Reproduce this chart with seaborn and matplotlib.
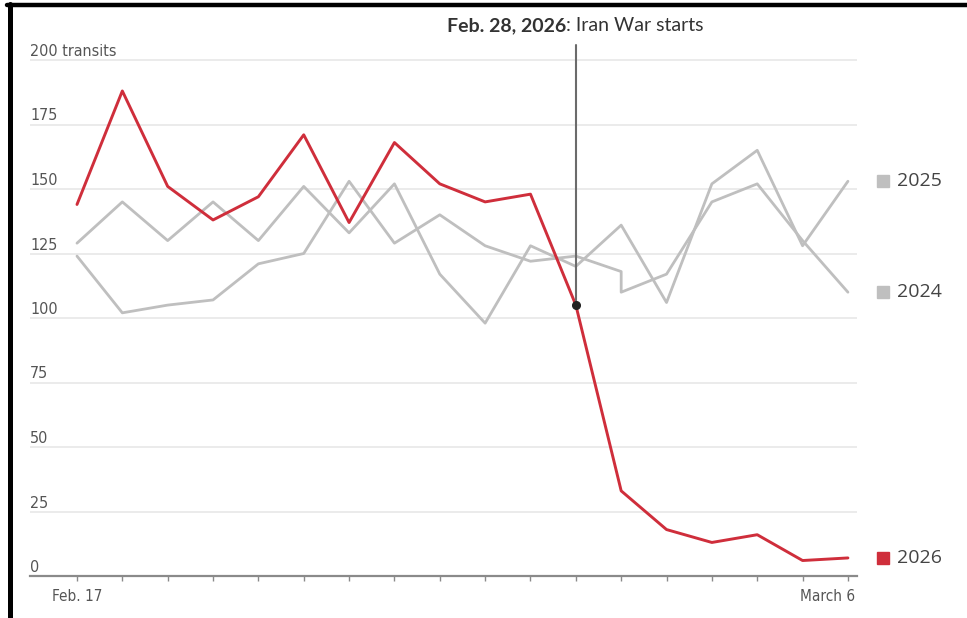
import numpy as np
import pandas as pd
import matplotlib
matplotlib.use("Agg")
import matplotlib.pyplot as plt
import matplotlib.transforms as mtrans
from matplotlib.lines import Line2D
from matplotlib import font_manager
import seaborn as sns

# Daily transits through the strait, Feb. 17 - March 6
dates = pd.date_range("2026-02-17", "2026-03-06", freq="D")
transits_2026 = [144, 188, 151, 138, 147, 171, 137, 168, 152, 145, 148, 105,
                 33, 18, 13, 16, 6, 7]
transits_2025 = [129, 145, 130, 145, 130, 151, 133, 152, 117, 98, 128, 120,
                 136, 106, 152, 165, 128, 153]
# 2024 has two readings logged on the March 1 slot
day_slots_2024 = [0, 1, 2, 3, 4, 5, 6, 7, 8, 9, 10, 11, 12, 12, 13, 14, 15, 16, 17]
transits_2024 = [124, 102, 105, 107, 121, 125, 153, 129, 140, 128, 122, 124,
                 118, 110, 117, 145, 152, 130, 110]
y_ticks = [0, 25, 50, 75, 100, 125, 150, 175, 200]
y_tick_labels = ["0", "25", "50", "75", "100", "125", "150", "175", "200 transits"]
event_index = 11
event_bold = "Feb. 28, 2026"
event_text = ": Iran War starts"

RED = "#cf2e3b"
GRAY = "#bfbfbf"

sns.set_theme(style="white")
plt.rcParams["font.family"] = ["Open Sans", "DejaVu Sans"]


def narrow_font(size):
    """Pick a condensed sans face for axis labels if one is installed."""
    cands = []
    for f in font_manager.fontManager.ttflist:
        nm = f.name.lower()
        fn = f.fname.lower()
        if f.style != "normal" or f.weight not in (400, "normal", "regular"):
            continue
        if "narrow" in nm or "condensed" in nm or "narrow" in fn or "condensed" in fn \
                or f.stretch in ("condensed", "semi-condensed"):
            if "bold" in fn or "oblique" in fn or "italic" in fn:
                continue
            cands.append(f.fname)
    if cands:
        cands.sort(key=lambda p: (0 if "liberationsansnarrow" in p.replace("-", "").lower() else 1, p))
        return font_manager.FontProperties(fname=cands[0], size=size)
    return font_manager.FontProperties(family="DejaVu Sans", size=size * 0.92)


df26 = pd.DataFrame({"date": dates, "transits": transits_2026})
df25 = pd.DataFrame({"date": dates, "transits": transits_2025})
df24 = pd.DataFrame({"date": dates[day_slots_2024], "transits": transits_2024})

W, H = 967, 618
fig = plt.figure(figsize=(W / 100, H / 100), dpi=100)
px_per_unit = 2.58
y_top = 205
ax = fig.add_axes([30 / W, 42 / H, 827 / W, (y_top * px_per_unit) / H])

sns.lineplot(data=df24, x="date", y="transits", ax=ax, color=GRAY, lw=2.0,
             estimator=None, sort=False)
sns.lineplot(data=df25, x="date", y="transits", ax=ax, color=GRAY, lw=2.0,
             estimator=None, sort=False)
sns.lineplot(data=df26, x="date", y="transits", ax=ax, color=RED, lw=2.1,
             estimator=None, sort=False)

ax.set_xlim(dates[0] - pd.Timedelta(days=1.036), dates[-1] + pd.Timedelta(days=0.2))
ax.set_ylim(0, y_top)
ax.set_xlabel("")
ax.set_ylabel("")

# horizontal grid
ax.set_yticks(y_ticks)
ax.set_yticklabels([])
ax.tick_params(axis="y", length=0)
ax.yaxis.grid(True, color="#e8e8e8", lw=1.2)
ax.xaxis.grid(False)
for side in ["left", "right", "top"]:
    ax.spines[side].set_visible(False)
ax.spines["bottom"].set_color("#8a8a8a")
ax.spines["bottom"].set_linewidth(1.6)
ax.set_axisbelow(True)

ylab_font = narrow_font(11.5)
xlab_font = narrow_font(11)

# y labels sit just above their gridlines
ylab_tr = mtrans.blended_transform_factory(ax.transAxes, ax.transData) + \
    mtrans.ScaledTranslation(0, 1 / 100, fig.dpi_scale_trans)
for v, lab in zip(y_ticks, y_tick_labels):
    ax.text(0, v, lab, transform=ylab_tr, ha="left", va="bottom",
            fontproperties=ylab_font, color="#555555")

# daily ticks, labelled only at the ends
ax.set_xticks(dates)
xlabels = [""] * len(dates)
xlabels[0] = "Feb. 17"
xlabels[-1] = "March 6"
ax.set_xticklabels(xlabels)
ax.tick_params(axis="x", direction="out", length=3.5, width=1, color="#8a8a8a",
               pad=6, labelcolor="#555555", bottom=True)
for lbl in ax.get_xticklabels():
    lbl.set_fontproperties(xlab_font)
last = ax.get_xticklabels()[-1]
last.set_ha("right")
last.set_transform(last.get_transform() + mtrans.ScaledTranslation(7 / 100, 0, fig.dpi_scale_trans))

# event marker
ev_date = dates[event_index]
ev_val = transits_2026[event_index]
ax.plot([ev_date, ev_date], [ev_val, 205.8], color="#6b6b6b", lw=1.5, clip_on=False, zorder=4)
ax.plot([ev_date], [ev_val], marker="o", markersize=5.5, color="#222222", clip_on=False, zorder=5)
split = mtrans.ScaledTranslation(-10 / 100, 0, fig.dpi_scale_trans)
ax.text(ev_date, 213.4, event_bold, transform=ax.transData + split, ha="right", va="center",
        fontsize=14, fontweight="bold", color="#333333", family=["Lato", "DejaVu Sans"])
ax.text(ev_date, 213.4, event_text, transform=ax.transData + split, ha="left", va="center",
        fontsize=14, color="#333333", family=["Lato", "DejaVu Sans"])

# series labels at the right end
leg_tr = mtrans.blended_transform_factory(ax.transAxes, ax.transData)
for val, name, col in [(transits_2025[-1], "2025", GRAY),
                       (transits_2024[-1], "2024", GRAY),
                       (transits_2026[-1], "2026", RED)]:
    ax.plot([1.032], [val], marker="s", markersize=9, color=col, transform=leg_tr,
            clip_on=False, linestyle="none")
    ax.text(1.048, val, name, transform=leg_tr, ha="left", va="center",
            fontsize=14, color="#444444")

# frame lines along the top and left edges
fig.add_artist(Line2D([7 / W, 1], [1 - 5 / H, 1 - 5 / H], color="black", lw=3.2,
                      transform=fig.transFigure))
fig.add_artist(Line2D([9.5 / W, 9.5 / W], [0, 1 - 3.5 / H], color="black", lw=3.6,
                      transform=fig.transFigure))

fig.savefig("out.png", dpi=100)
